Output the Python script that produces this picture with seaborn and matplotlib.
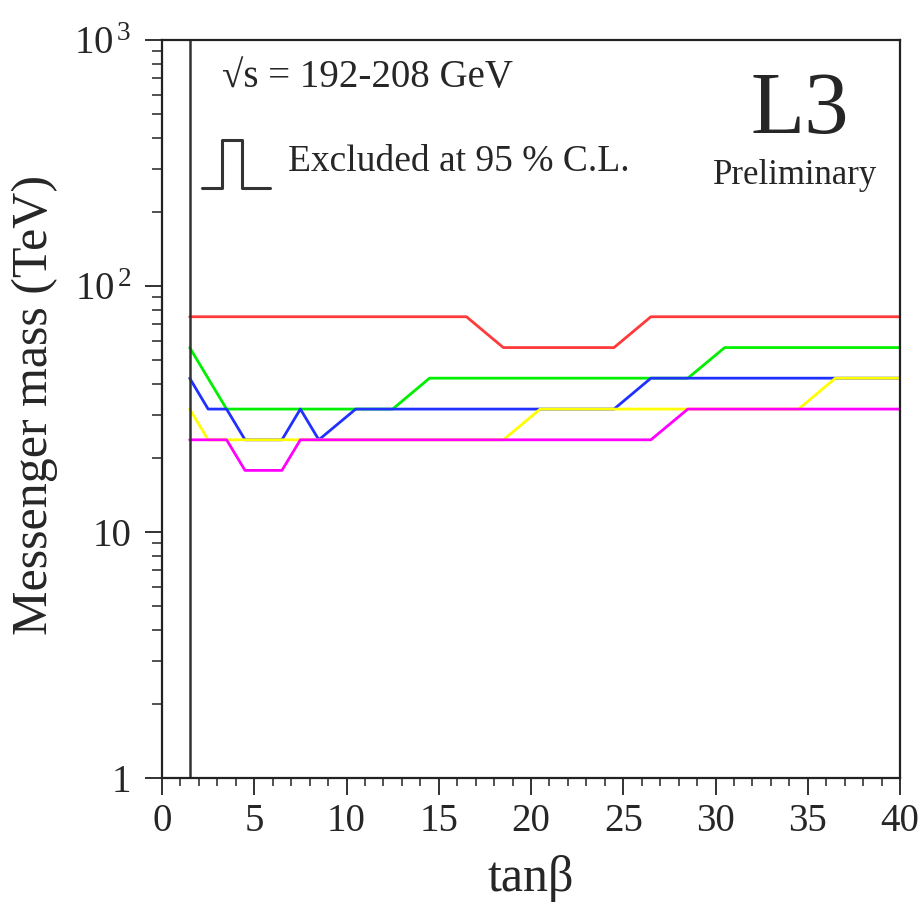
import matplotlib
matplotlib.use("Agg")
import matplotlib.pyplot as plt
import seaborn as sns
import pandas as pd
import numpy as np

# ---- data (tanbeta breakpoints, messenger mass in TeV) ----
red_x = [1.5, 16.5, 18.5, 24.5, 26.5, 40]
red_y = [75.0, 75.0, 56.2, 56.2, 75.0, 75.0]
green_x = [1.5, 3.5, 12.5, 14.5, 28.5, 30.5, 40]
green_y = [56.2, 31.6, 31.6, 42.2, 42.2, 56.2, 56.2]
blue_x = [1.5, 2.5, 3.5, 4.5, 6.5, 7.5, 8.5, 10.5, 24.5, 26.5, 40]
blue_y = [42.2, 31.6, 31.6, 23.7, 23.7, 31.6, 23.7, 31.6, 31.6, 42.2, 42.2]
yellow_x = [1.5, 2.5, 18.5, 20.5, 34.5, 36.5, 40]
yellow_y = [31.6, 23.7, 23.7, 31.6, 31.6, 42.2, 42.2]
magenta_x = [1.5, 3.5, 4.5, 6.5, 7.5, 26.5, 28.5, 40]
magenta_y = [23.7, 23.7, 17.8, 17.8, 23.7, 23.7, 31.6, 31.6]
tanb_min = 1.5

x_major = [0, 5, 10, 15, 20, 25, 30, 35, 40]
x_labels = ["0", "5", "10", "15", "20", "25", "30", "35", "40"]
y_major = [1, 10, 100, 1000]
y_labels = ["1", "10", r"10$^{\,2}$", r"10$^{\,3}$"]

series = [
    ("red", red_x, red_y, "#ff3a3a"),
    ("green", green_x, green_y, "#00f000"),
    ("blue", blue_x, blue_y, "#2030ff"),
    ("yellow", yellow_x, yellow_y, "#ffff00"),
    ("magenta", magenta_x, magenta_y, "#ff00ff"),
]

sns.set_style("white")
plt.rcParams["font.family"] = ["Liberation Serif", "DejaVu Serif"]
plt.rcParams["mathtext.fontset"] = "custom"
plt.rcParams["mathtext.rm"] = "Liberation Serif"
plt.rcParams["mathtext.it"] = "Liberation Serif:italic"

W, H = 923, 907
fig = plt.figure(figsize=(W / 100, H / 100), dpi=100)
ax = fig.add_axes([162 / W, 1 - 778 / H, (900 - 162) / W, (778 - 40) / H])

for name, xs, ys, col in series:
    df = pd.DataFrame({"x": xs, "y": ys})
    sns.lineplot(data=df, x="x", y="y", ax=ax, color=col, lw=2.0,
                 sort=False, estimator=None)

ax.axvline(tanb_min, color="#333333", lw=1.8)

ax.set_yscale("log")
ax.set_xlim(0, 40)
ax.set_ylim(1, 1000)
ax.set_xticks(x_major)
ax.set_xticklabels(x_labels)
ax.set_xticks(np.arange(0, 41, 1), minor=True)
ax.set_yticks(y_major)
ax.set_yticklabels(y_labels)
ax.yaxis.set_minor_locator(matplotlib.ticker.LogLocator(base=10, subs=np.arange(2, 10)))
ax.yaxis.set_minor_formatter(matplotlib.ticker.NullFormatter())
ax.set_xlabel("")
ax.set_ylabel("")

for s in ax.spines.values():
    s.set_color("#222222")
    s.set_linewidth(1.6)

ax.tick_params(axis="both", which="both", top=False, right=False, left=True, bottom=True)
ax.tick_params(axis="both", which="major", direction="out", length=12, width=1.3,
               labelsize=28, color="#222222", pad=6)
ax.tick_params(axis="both", which="minor", direction="out", length=6, width=1.1,
               color="#222222")
ax.tick_params(axis="y", which="major", pad=10)
ax.tick_params(axis="y", which="minor", length=7)

# axis labels
fig.text(35 / W, 1 - 405 / H, "Messenger mass (TeV)", rotation=90,
         ha="center", va="center", fontsize=36)
fig.text(531 / W, 1 - 878 / H, "tanβ", ha="center", va="center", fontsize=36)

# annotations
fig.text(222 / W, 1 - 78 / H, "√s = 192-208 GeV", ha="left", va="center", fontsize=28)
fig.text(288 / W, 1 - 162 / H, "Excluded at 95 % C.L.", ha="left", va="center", fontsize=27)
fig.text(800 / W, 1 - 112 / H, "L3", ha="center", va="center", fontsize=64)
fig.text(795 / W, 1 - 175 / H, "Preliminary", ha="center", va="center", fontsize=25)

# legend pulse symbol (figure pixel coordinates)
px = np.array([202, 222, 222, 242, 242, 270]) / W
py = 1 - np.array([188, 188, 140, 140, 188, 188]) / H
fig.add_artist(matplotlib.lines.Line2D(px, py, color="#333333", lw=2.2))

fig.savefig("out.png", dpi=100)
